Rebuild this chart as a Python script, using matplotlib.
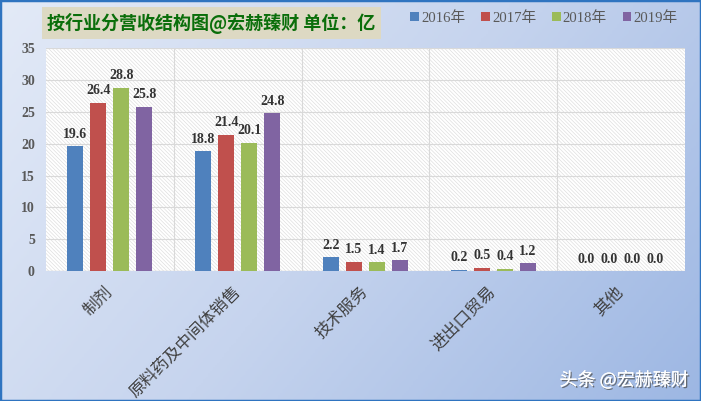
import numpy as np
import matplotlib
matplotlib.use("Agg")
import matplotlib.pyplot as plt
import matplotlib.patheffects as pe
from matplotlib.patches import Rectangle
from matplotlib.colors import LinearSegmentedColormap

# 行业分类和各年份营收（亿）
categories = ['制剂', '原料药及中间体销售', '技术服务', '进出口贸易', '其他']
years = ['2016年', '2017年', '2018年', '2019年']
rev_2016 = [19.6, 18.8, 2.2, 0.2, 0.0]
rev_2017 = [26.4, 21.4, 1.5, 0.5, 0.0]
rev_2018 = [28.8, 20.1, 1.4, 0.4, 0.0]
rev_2019 = [25.8, 24.8, 1.7, 1.2, 0.0]
yticks = [0, 5, 10, 15, 20, 25, 30, 35]

colors = ['#4f81bd', '#c0504d', '#9bbb59', '#8064a2']
cjk = ['Noto Sans CJK SC', 'DejaVu Sans']
serif = ['Liberation Serif', 'Noto Sans CJK SC']

plt.rcParams['hatch.linewidth'] = 0.45

fig = plt.figure(figsize=(7.01, 4.01), dpi=100)

# background gradient
bg = fig.add_axes([0, 0, 1, 1], zorder=0)
xx, yy = np.meshgrid(np.linspace(0, 1, 300), np.linspace(0, 1, 200))
grad = 0.75 * xx + 0.35 * yy
cmap = LinearSegmentedColormap.from_list('bg', ['#e3eaf7', '#c6d4ee', '#9db7e3'])
bg.imshow(grad, cmap=cmap, aspect='auto', extent=[0, 1, 0, 1], origin='upper')
bg.add_patch(Rectangle((0, 0), 1, 1, transform=bg.transAxes, fill=False,
                       edgecolor='#2f74c0', lw=2.5))
bg.axis('off')

ax = fig.add_axes([0.0656, 0.324, 0.9114, 0.556], zorder=2)
ax.patch.set_alpha(0)
ax.add_patch(Rectangle((0, 0), 1, 1, transform=ax.transAxes, facecolor='white',
                       edgecolor='#dcdcdc', lw=0, hatch='\\' * 9, zorder=0))

x = np.arange(len(categories))
series = [rev_2016, rev_2017, rev_2018, rev_2019]
for j, vals in enumerate(series):
    bars = ax.bar(x + (j - 1.5) * 0.18, vals, width=0.125, color=colors[j],
                  label=years[j], zorder=3)
    ax.bar_label(bars, fmt='%.1f', padding=4, fontsize=10, fontweight='bold',
                 family='Liberation Serif', color='#333333', zorder=4)

ax.set_xlim(-0.5, 4.5)
ax.set_ylim(0, 35)
ax.set_yticks(yticks)
ax.set_yticklabels([str(t) for t in yticks], family='Liberation Serif',
                   fontweight='bold', fontsize=10, color='#595959')
ax.set_xticks(np.arange(0.5, 4.5, 1), minor=True)
ax.set_xticks(x)
ax.set_xticklabels(categories, rotation=45, ha='right', va='center',
                   rotation_mode='anchor', family=cjk, fontsize=12, color='#404040')
ax.tick_params(axis='x', which='major', length=0, pad=13)
ax.tick_params(axis='x', which='minor', length=0)
ax.tick_params(axis='y', length=0, pad=8)
ax.grid(axis='y', color='#d9d9d9', lw=0.8, zorder=1)
ax.grid(axis='x', which='minor', color='#d9d9d9', lw=0.8, zorder=1)
for s in ax.spines.values():
    s.set_visible(False)
ax.axhline(0, color='#d9d9d9', lw=1, zorder=2)

# title box
fig.text(0.067, 0.942, '按行业分营收结构图@宏赫臻财 单位：亿', family=cjk,
         fontsize=13, fontweight='bold', color='#0a6e0a', va='center', ha='left',
         bbox=dict(boxstyle='square,pad=0.3', facecolor='#ddd9c3', edgecolor='none'))

leg = ax.legend(loc='center left', bbox_to_anchor=(0.561, 1.135), ncol=4, frameon=False,
                handlelength=0.6, handleheight=0.6, handletextpad=0.15,
                columnspacing=1.05, borderaxespad=0, prop={'family': serif, 'size': 10.6})
for t in leg.get_texts():
    t.set_color('#595959')

fig.text(0.982, 0.052, '头条 @宏赫臻财', family=cjk, fontsize=13, color='white',
         ha='right', va='center',
         path_effects=[pe.withSimplePatchShadow(offset=(1, -1), shadow_rgbFace='#555555', alpha=0.8),
                       pe.Normal()])

fig.savefig('out.png', dpi=100)
